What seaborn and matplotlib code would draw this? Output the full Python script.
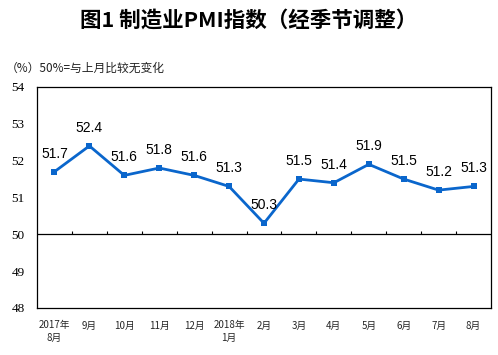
import numpy as np
import pandas as pd
import seaborn as sns
import matplotlib.pyplot as plt

# 制造业PMI（经季节调整），2017年8月 - 2018年8月
months = ['2017年\n8月', '9月', '10月', '11月', '12月', '2018年\n1月', '2月',
          '3月', '4月', '5月', '6月', '7月', '8月']
pmi = [51.7, 52.4, 51.6, 51.8, 51.6, 51.3, 50.3, 51.5, 51.4, 51.9, 51.5, 51.2, 51.3]
y_ticks = [48, 49, 50, 51, 52, 53, 54]

sns.set_style('white')
plt.rcParams['font.family'] = ['Noto Sans CJK SC', 'DejaVu Sans']

df = pd.DataFrame({'idx': range(len(months)), 'pmi': pmi})

fig = plt.figure(figsize=(4.98, 3.55), dpi=100)
ax = fig.add_axes([0.0743, 0.1324, 0.9117, 0.6226])

sns.lineplot(data=df, x='idx', y='pmi', ax=ax, color='#0A66CC', linewidth=2,
             marker='s', markersize=4.5, markeredgewidth=0)

for i, v in enumerate(pmi):
    ax.annotate(f'{v}', (i, v), xytext=(0, 8), textcoords='offset points',
                ha='center', va='bottom', fontsize=10,
                family=['Liberation Sans'], color='black')

ax.set_xlim(-0.5, len(months) - 0.5)
ax.set_ylim(48, 54)

# 50 line with upward category ticks
ax.axhline(50, color='black', linewidth=0.9)
bounds = np.arange(len(months) + 1) - 0.5
ax.vlines(bounds[1:-1], 50, 50.1, color='black', linewidth=0.8)

ax.set_yticks(y_ticks)
ax.set_yticklabels([str(t) for t in y_ticks], family=['Liberation Serif'],
                   fontsize=9.5)
ax.tick_params(axis='y', direction='in', length=4, width=0.8, pad=9, colors='black')

ax.set_xticks(range(len(months)))
ax.set_xticklabels(months, fontsize=7, linespacing=1.3)
ax.tick_params(axis='x', length=0, pad=9)

for s in ax.spines.values():
    s.set_color('black')
    s.set_linewidth(0.9)

ax.set_xlabel('')
ax.set_ylabel('')

fig.text(0.5, 0.943, '图1 制造业PMI指数（经季节调整）', ha='center', va='center',
         fontsize=15.5, fontweight='bold', color='black')
fig.text(0.012, 0.808, '（%）50%=与上月比较无变化', ha='left', va='center',
         fontsize=8.5, color='#222222')

fig.savefig('out.png', dpi=100)
